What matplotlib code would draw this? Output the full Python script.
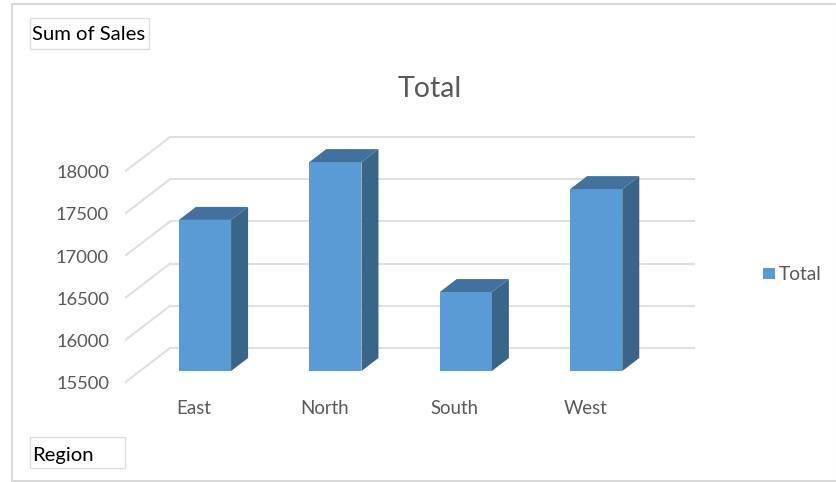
import matplotlib
matplotlib.use("Agg")
import matplotlib.pyplot as plt
from matplotlib.patches import Polygon, Rectangle

regions = ["East", "North", "South", "West"]
sales = [17290, 17975, 16435, 17655]
yticks = [15500, 16000, 16500, 17000, 17500, 18000]

W, H = 837, 482
plt.rcParams['font.family'] = ['Lato', 'DejaVu Sans']

fig = plt.figure(figsize=(W / 100, H / 100), dpi=100)

# whole figure is one axes, the scale is set so value 15500 sits on the floor of the bars
ax = fig.add_axes([0, 0, 1, 1])
ax.set_xlim(-205 / 130.4, (W - 205) / 130.4)
ax.set_ylim(15500 - (H - 371) / 0.0844, 15500 + 371 / 0.0844)
ax.axis("off")

# pixel overlay for frame, boxes and legend
px = fig.add_axes([0, 0, 1, 1], zorder=5)
px.set_xlim(0, W)
px.set_ylim(H, 0)
px.axis("off")
px.patch.set_alpha(0)

# depth of the fake 3d, in data units
bar_w = 0.4
dx = 17 / 130.4
dy = 13 / 0.0844
grid_dx = 44 / 130.4
grid_back = 272
grid_front = -127
x_back = (170 - 205) / 130.4
x_right = (694 - 205) / 130.4

grid_col = "#e0e0e0"
for v in yticks:
    ax.plot([x_back + -grid_dx, x_back], [v + grid_front, v + grid_back], color=grid_col, lw=1.5, zorder=1)
    ax.plot([x_back, x_right], [v + grid_back, v + grid_back], color=grid_col, lw=1.5, zorder=1)
    ax.text(x_back - grid_dx - 0.13, v + grid_front - 30, str(v), ha="right", va="center",
            fontsize=13.2, color="#595959")

pos = list(range(len(regions)))
ax.bar(pos, [s - 15500 for s in sales], bottom=15500, width=bar_w, color="#5b9bd5", zorder=3)
for i, s in zip(pos, sales):
    l = i - bar_w / 2
    r = i + bar_w / 2
    ax.add_patch(Polygon([(r, 15500), (r + dx, 15500 + dy), (r + dx, s + dy), (r, s)],
                         color="#3a6488", lw=0, zorder=3))
    ax.add_patch(Polygon([(l, s), (l + dx, s + dy), (r + dx, s + dy), (r, s)],
                         color="#41719c", lw=0, zorder=3))
    ax.text(i - 11 / 130.4, 15500 - 37 / 0.0844, regions[i], ha="center", va="center",
            fontsize=13.4, color="#595959")

# frame
px.plot([12, 12, W, W, 12], [481, 4, 4, 481, 481], color="#d9d9d9", lw=1.5, clip_on=False)

# field buttons
px.add_patch(Rectangle((30, 18), 119, 31, fc="white", ec="#dddddd", lw=1))
px.text(32, 35, "Sum of Sales", fontsize=14.6, color="black", va="center", ha="left")
px.add_patch(Rectangle((30, 437), 95, 31, fc="white", ec="#dddddd", lw=1))
px.text(32, 455, "Region", fontsize=14.6, color="black", va="center", ha="left")

px.text(430, 89, "Total", fontsize=20.5, color="#595959", ha="center", va="center")

# legend
px.add_patch(Rectangle((763, 268), 12, 11, fc="#5b9bd5", ec="none"))
px.text(779, 275, "Total", fontsize=13.8, color="#595959", ha="left", va="center")

fig.savefig("out.png", dpi=100)
